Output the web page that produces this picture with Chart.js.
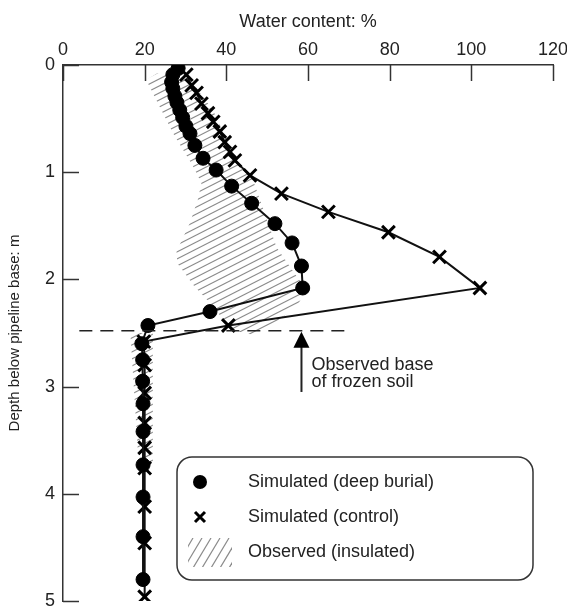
<!DOCTYPE html>
<html><head><meta charset="utf-8">
<script src="https://cdn.jsdelivr.net/npm/chart.js@4.4.0/dist/chart.umd.min.js"></script>
<style>html,body{margin:0;padding:0;background:#fff}#wrap{width:567px;height:608px}</style>
</head><body><div id="wrap"><canvas id="c" width="567" height="608"></canvas></div>
<script>
// ---- data ----
const xTickValues = [0, 20, 40, 60, 80, 100, 120];
const yTickValues = [0, 1, 2, 3, 4, 5];

const deepDepth = [0.03, 0.09, 0.16, 0.22, 0.29, 0.35, 0.42, 0.49, 0.57, 0.64, 0.75, 0.87, 0.98, 1.13, 1.29, 1.48, 1.66, 1.875, 2.08, 2.30, 2.43, 2.60, 2.75, 2.95, 3.16, 3.42, 3.73, 4.03, 4.40, 4.80];
const deepWater = [28.2, 26.9, 26.6, 26.9, 27.4, 27.9, 28.6, 29.3, 30.1, 31.1, 32.3, 34.3, 37.5, 41.3, 46.2, 51.9, 56.1, 58.4, 58.7, 36.0, 20.8, 19.3, 19.5, 19.5, 19.6, 19.6, 19.6, 19.6, 19.6, 19.6];

const ctrlDepth = [0.09, 0.19, 0.26, 0.36, 0.45, 0.53, 0.62, 0.72, 0.81, 0.89, 1.03, 1.20, 1.37, 1.56, 1.79, 2.08, 2.43, 2.58, 2.80, 3.06, 3.34, 3.57, 3.76, 4.12, 4.46, 4.96];
const ctrlWater = [30.2, 31.5, 32.7, 33.9, 35.5, 36.8, 38.4, 39.6, 40.9, 42.1, 45.8, 53.5, 65.0, 79.7, 92.2, 102.1, 40.5, 19.8, 20.0, 20.0, 20.0, 20.0, 20.0, 20.0, 20.0, 20.0];

// observed (insulated) envelope, outline of hatched area
const obsDepth = [0.08, 0.06, 0.17, 0.33, 0.48, 0.65, 0.79, 0.95, 1.07, 1.38, 1.70, 1.97, 2.10, 2.25, 2.44, 2.52, 2.47, 2.25, 2.07, 1.85, 1.74, 1.48, 1.26, 1.10, 0.95, 0.64, 0.33, 0.14];
const obsWater = [23.0, 29.0, 31.8, 35.0, 37.6, 39.5, 40.9, 43.5, 46.5, 49.4, 52.3, 57.2, 59.7, 57.2, 50.7, 47.0, 41.0, 36.8, 32.3, 28.0, 27.8, 31.0, 33.0, 33.9, 31.9, 27.0, 22.9, 20.4];
const obsStripDepth = [2.50, 2.50, 3.70, 3.70];
const obsStripWater = [16.5, 22.0, 22.0, 18.5];

const frozenBaseDepth = 2.48;
const frozenBaseRange = [4, 70];
const arrowWater = 58.4;
const arrowFromDepth = 3.05;

const legendLabels = ['Simulated (deep burial)', 'Simulated (control)', 'Observed (insulated)'];
const annotationLines = ['Observed base', 'of frozen soil'];

// ---- build ----
const pts = (w, d) => d.map((v, i) => ({x: w[i], y: v}));
const INK = '#111';
const FONT = 'Liberation Sans, Arial, sans-serif';

const hatchPlugin = {
  id: 'hatch',
  beforeDatasetsDraw(chart) {
    const {ctx, chartArea: a, scales: {x, y}} = chart;
    const polys = [[obsWater, obsDepth], [obsStripWater, obsStripDepth]];
    ctx.save();
    ctx.beginPath();
    polys.forEach(([w, d]) => {
      d.forEach((v, i) => {
        const px = x.getPixelForValue(w[i]), py = y.getPixelForValue(v);
        if (i === 0) ctx.moveTo(px, py); else ctx.lineTo(px, py);
      });
      ctx.closePath();
    });
    ctx.clip();
    ctx.strokeStyle = '#8a8a8a';
    ctx.lineWidth = 1.2;
    const slope = Math.tan(27 * Math.PI / 180);
    const span = a.right - a.left;
    for (let c = a.top; c < a.bottom + span * slope + 10; c += 7) {
      ctx.beginPath();
      ctx.moveTo(a.left, c);
      ctx.lineTo(a.right, c - span * slope);
      ctx.stroke();
    }
    ctx.restore();
  }
};

const decoPlugin = {
  id: 'deco',
  afterDatasetsDraw(chart) {
    const {ctx, chartArea: a, scales: {x, y}} = chart;
    ctx.save();
    // inward ticks
    ctx.strokeStyle = '#333';
    ctx.lineWidth = 1.5;
    xTickValues.forEach(v => {
      const px = Math.round(x.getPixelForValue(v)) + 0.5;
      ctx.beginPath(); ctx.moveTo(px, a.top); ctx.lineTo(px, a.top + 16); ctx.stroke();
    });
    yTickValues.forEach(v => {
      const py = Math.round(y.getPixelForValue(v)) + 0.5;
      ctx.beginPath(); ctx.moveTo(a.left, py); ctx.lineTo(a.left + 16, py); ctx.stroke();
    });
    // dashed frozen base line
    const dy = y.getPixelForValue(frozenBaseDepth);
    ctx.strokeStyle = '#222';
    ctx.lineWidth = 1.5;
    ctx.setLineDash([13, 8]);
    ctx.beginPath();
    ctx.moveTo(x.getPixelForValue(frozenBaseRange[0]), dy);
    ctx.lineTo(x.getPixelForValue(frozenBaseRange[1]), dy);
    ctx.stroke();
    ctx.setLineDash([]);
    // arrow
    const ax = x.getPixelForValue(arrowWater);
    const ay0 = y.getPixelForValue(arrowFromDepth);
    ctx.lineWidth = 2;
    ctx.beginPath(); ctx.moveTo(ax, ay0); ctx.lineTo(ax, dy + 14); ctx.stroke();
    ctx.fillStyle = '#000';
    ctx.beginPath(); ctx.moveTo(ax, dy + 1); ctx.lineTo(ax - 8, dy + 17); ctx.lineTo(ax + 8, dy + 17); ctx.closePath(); ctx.fill();
    // annotation text
    ctx.fillStyle = '#222';
    ctx.font = '18px ' + FONT;
    ctx.textAlign = 'left';
    ctx.textBaseline = 'middle';
    ctx.fillText(annotationLines[0], ax + 10, dy + 34);
    ctx.fillText(annotationLines[1], ax + 10, dy + 51);
    // legend box
    const bx = 177, by = 457, bw = 356, bh = 123, r = 15;
    ctx.beginPath();
    ctx.moveTo(bx + r, by);
    ctx.arcTo(bx + bw, by, bx + bw, by + bh, r);
    ctx.arcTo(bx + bw, by + bh, bx, by + bh, r);
    ctx.arcTo(bx, by + bh, bx, by, r);
    ctx.arcTo(bx, by, bx + bw, by, r);
    ctx.closePath();
    ctx.fillStyle = '#fff';
    ctx.fill();
    ctx.strokeStyle = '#333';
    ctx.lineWidth = 1.5;
    ctx.stroke();
    const rows = [482, 517, 552];
    // circle symbol
    ctx.fillStyle = '#000';
    ctx.beginPath(); ctx.arc(200, rows[0], 7, 0, Math.PI * 2); ctx.fill();
    // cross symbol
    ctx.strokeStyle = '#000';
    ctx.lineWidth = 3;
    ctx.beginPath();
    ctx.moveTo(195, rows[1] - 5); ctx.lineTo(205, rows[1] + 5);
    ctx.moveTo(205, rows[1] - 5); ctx.lineTo(195, rows[1] + 5);
    ctx.stroke();
    // hatch symbol
    ctx.save();
    ctx.beginPath(); ctx.rect(188, 538, 44, 29); ctx.clip();
    ctx.strokeStyle = '#8a8a8a';
    ctx.lineWidth = 1.2;
    for (let k = -2; k < 6; k++) {
      const x0 = 184 + k * 9;
      ctx.beginPath(); ctx.moveTo(x0, 568); ctx.lineTo(x0 + 18, 538); ctx.stroke();
    }
    ctx.restore();
    ctx.fillStyle = '#222';
    ctx.font = '18px ' + FONT;
    ctx.textBaseline = 'middle';
    legendLabels.forEach((t, i) => ctx.fillText(t, 248, rows[i]));
    ctx.restore();
  }
};

new Chart(document.getElementById('c'), {
  type: 'scatter',
  data: {
    datasets: [
      {label: legendLabels[0], data: pts(deepWater, deepDepth), showLine: true, borderColor: INK, borderWidth: 2,
       pointStyle: 'circle', pointRadius: 7, pointBackgroundColor: '#000', pointBorderColor: '#000', pointBorderWidth: 1, order: 1},
      {label: legendLabels[1], data: pts(ctrlWater, ctrlDepth), showLine: true, borderColor: INK, borderWidth: 2,
       pointStyle: 'crossRot', pointRadius: 9, pointBorderColor: '#000', pointBorderWidth: 3, order: 2}
    ]
  },
  options: {
    responsive: false,
    devicePixelRatio: 1,
    animation: false,
    layout: {autoPadding: false, padding: {left: 0, right: 14, top: 0, bottom: 7}},
    plugins: {legend: {display: false}, tooltip: {enabled: false}},
    scales: {
      x: {
        type: 'linear', position: 'top', min: 0, max: 120,
        afterBuildTicks: s => { s.ticks = xTickValues.map(v => ({value: v})); },
        afterFit: s => { s.height = 65; s.paddingLeft = 0; s.paddingRight = 0; },
        ticks: {font: {size: 18, family: FONT}, color: '#222', padding: 4, maxRotation: 0},
        grid: {drawOnChartArea: false, drawTicks: false, display: false},
        border: {display: true, color: '#333', width: 1.5},
        title: {display: true, text: 'Water content: %', font: {size: 18, family: FONT}, color: '#222', padding: {top: 11, bottom: 0}}
      },
      y: {
        type: 'linear', position: 'left', reverse: true, min: 0, max: 5,
        afterBuildTicks: s => { s.ticks = yTickValues.map(v => ({value: v})); },
        afterFit: s => { s.width = 63; s.paddingTop = 0; s.paddingBottom = 0; },
        ticks: {font: {size: 18, family: FONT}, color: '#222', padding: 8},
        grid: {drawOnChartArea: false, drawTicks: false, display: false},
        border: {display: true, color: '#333', width: 1.5},
        title: {display: true, text: 'Depth below pipeline base: m', font: {size: 15, family: FONT}, color: '#222', padding: {top: 6, bottom: 0}}
      }
    }
  },
  plugins: [hatchPlugin, decoPlugin]
});
</script>
</body></html>
